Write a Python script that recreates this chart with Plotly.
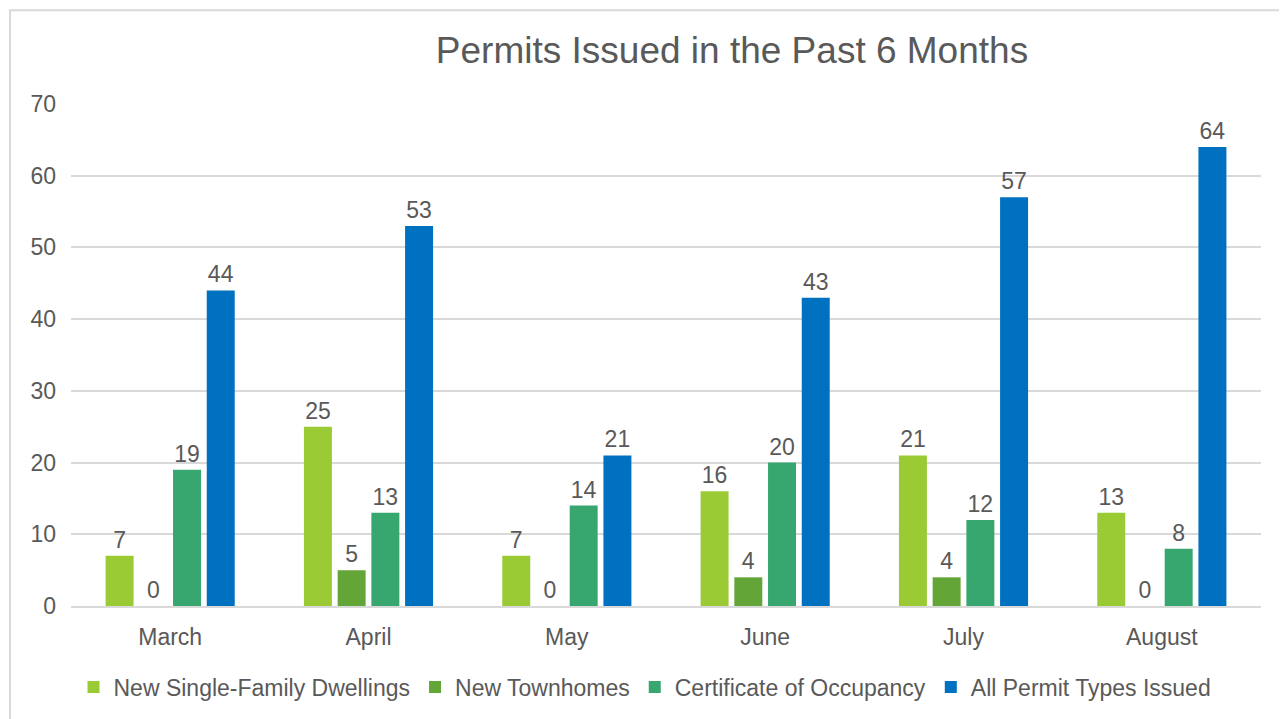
import plotly.graph_objects as go

months = ["March", "April", "May", "June", "July", "August"]
single_family = [7, 25, 7, 16, 21, 13]
townhomes = [0, 5, 0, 4, 4, 0]
occupancy = [19, 13, 14, 20, 12, 8]
all_permits = [44, 53, 21, 43, 57, 64]
y_ticks = [0, 10, 20, 30, 40, 50, 60, 70]

series = [
    ("New Single-Family Dwellings", single_family, "#9ACB34"),
    ("New Townhomes", townhomes, "#63A537"),
    ("Certificate of Occupancy", occupancy, "#37A76F"),
    ("All Permit Types Issued", all_permits, "#0070C0"),
]

FONT = "Liberation Sans, Arial, sans-serif"
TXT = "#595959"

fig = go.Figure()
for name, vals, col in series:
    fig.add_trace(go.Bar(
        x=months, y=vals, name=name, marker_color=col, marker_line_width=0,
        text=[str(v) for v in vals], textposition="outside",
        textfont=dict(size=23, color=TXT, family=FONT),
        cliponaxis=False,
    ))

OFF = 8  # page body margin
W, H = 1287 - OFF, 719 - OFF
# plot area in page pixels: x 71..1261, y 104..607
L = 71 - OFF
R = W - (1261 - OFF)
T = 104 - OFF
B = H - (607 - OFF)
pw, ph = W - L - R, H - T - B

def px(xp):
    return (xp - 71) / pw

def py(yp):
    return (607 - yp) / ph

fig.update_layout(
    width=W, height=H,
    margin=dict(l=L, r=R, t=T, b=B),
    paper_bgcolor="white", plot_bgcolor="white",
    barmode="group", bargap=0.32, bargroupgap=0.17,
    font=dict(family=FONT, size=23, color=TXT),
    title=dict(text="Permits Issued in the Past 6 Months", x=(732 - OFF) / W, xanchor="center",
               y=1 - (50 - OFF) / H, yanchor="middle",
               font=dict(size=37, color=TXT, family=FONT)),
    legend=dict(orientation="h", x=px(645), xanchor="center",
                y=py(687), yanchor="middle",
                font=dict(size=23, color=TXT, family=FONT),
                itemwidth=30, traceorder="normal"),
    xaxis=dict(showgrid=False, showline=True, linecolor="#D9D9D9", linewidth=1.5,
               ticks="", ticklabelstandoff=10, tickfont=dict(size=23, color=TXT)),
    yaxis=dict(range=[0, 70], tickvals=y_ticks, showgrid=True, gridcolor="#D9D9D9",
               gridwidth=1.5, zeroline=False, showline=False, ticks="",
               ticklabelstandoff=14, tickfont=dict(size=23, color=TXT)),
    shapes=[dict(type="rect", xref="paper", yref="paper",
                 x0=px(10), x1=px(1300),
                 y0=py(740), y1=py(10),
                 line=dict(color="#D9D9D9", width=2), layer="below")],
)

fig.write_html("out.html")
